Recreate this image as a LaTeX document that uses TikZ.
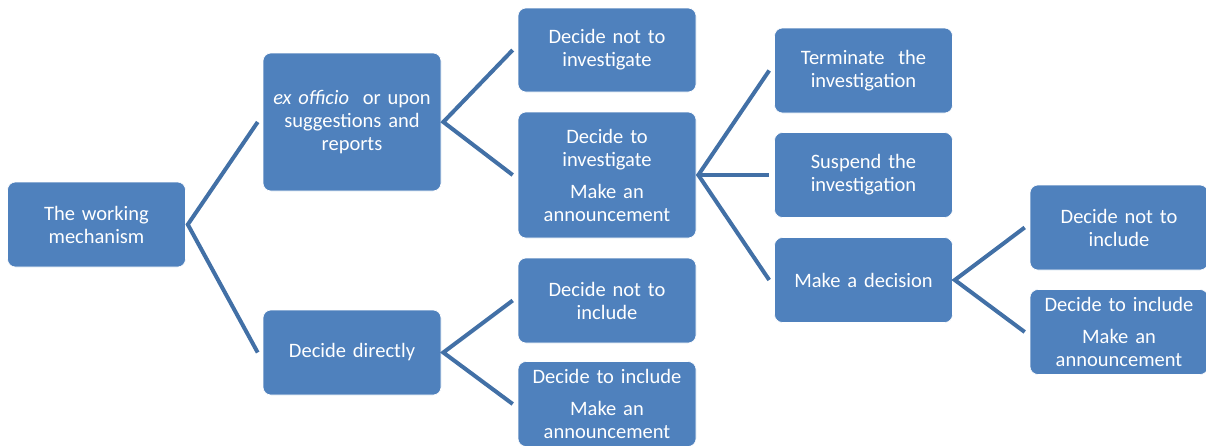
\documentclass[tikz,border=0pt]{standalone}
\usepackage{fontspec}
\setmainfont{Carlito}
\definecolor{boxblue}{RGB}{79,129,189}
\definecolor{linkblue}{RGB}{66,112,166}

\begin{document}
\begin{tikzpicture}[x=1pt,y=-1pt,
  blk/.style={draw=white,line width=0.6pt,fill=boxblue,rounded corners=8pt,text=white,
    align=center,text width=162pt,inner xsep=8pt,inner ysep=0pt,minimum height=#1,
    font=\fontsize{20.5}{23}\selectfont},
  blk/.default=85pt,
  link/.style={draw=linkblue,line width=4pt,line join=miter}]
\useasboundingbox (0,0) rectangle (1206,445);

\node[blk] (wm) at (96.5,224.5) {The working\\mechanism};
\node[blk=138pt] (exo) at (352,122) {\textit{ex officio}~ or upon\\suggestions and\\reports};
\node[blk] (dd) at (352,352.5) {Decide directly};

\node[blk=84pt] (dni) at (607,50) {Decide not to\\investigate};
\node[blk=126pt] (di) at (607,175) {Decide to\\investigate\\[9pt]Make an\\announcement};
\node[blk] (dnc) at (607,300.5) {Decide not to\\include};
\node[blk] (dc) at (607,404) {Decide to include\\[9pt]Make an\\announcement};

\node[blk] (ti) at (863.5,70.5) {Terminate~ the\\investigation};
\node[blk] (si) at (863.5,175) {Suspend the\\investigation};
\node[blk] (md) at (863.5,280) {Make a decision};

\node[blk] (dnc2) at (1119,227.5) {Decide not to\\include};
\node[blk] (dc2) at (1119,332) {Decide to include\\[9pt]Make an\\announcement};

% connectors
\draw[link] ([xshift=-5pt]exo.west) -- ([xshift=2pt]wm.east) -- ([xshift=-5pt]dd.west);
\draw[link] ([xshift=-5pt]dni.west) -- ([xshift=2pt]exo.east) -- ([xshift=-5pt]di.west);
\draw[link] ([xshift=-5pt]dnc.west) -- ([xshift=2pt]dd.east) -- ([xshift=-5pt]dc.west);
\draw[link] ([xshift=-5pt]ti.west) -- ([xshift=2pt]di.east) -- ([xshift=-5pt]md.west);
\draw[link] ([xshift=2pt]di.east) -- ([xshift=-5pt]si.west);
\draw[link] ([xshift=-5pt]dnc2.west) -- ([xshift=2pt]md.east) -- ([xshift=-5pt]dc2.west);
\end{tikzpicture}
\end{document}
